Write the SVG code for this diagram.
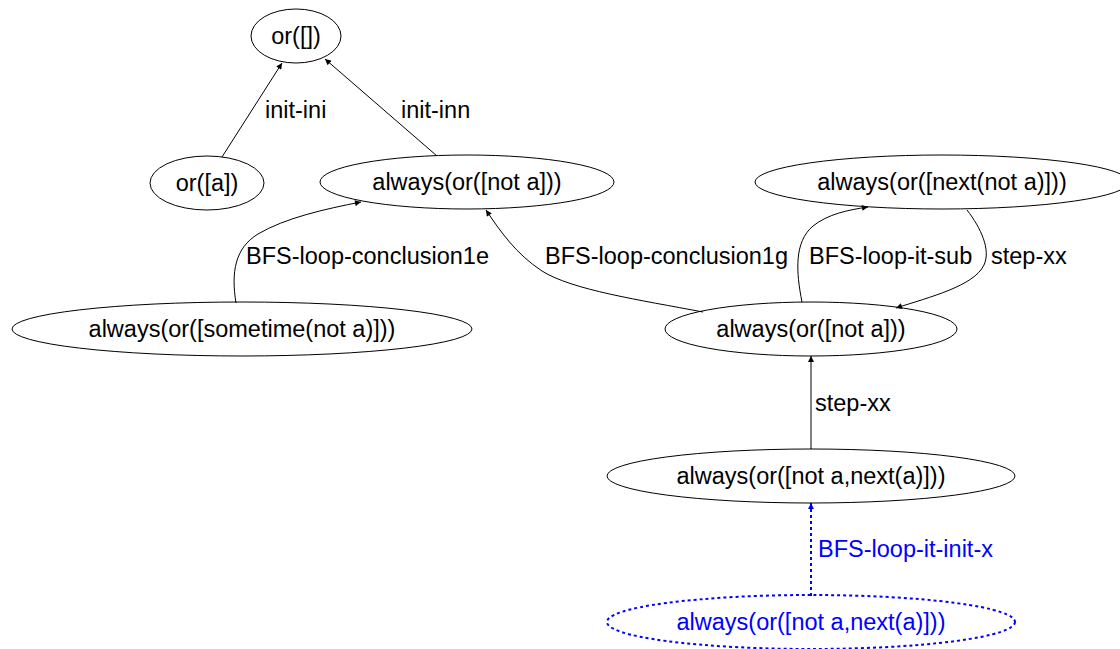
<svg xmlns="http://www.w3.org/2000/svg" width="1120" height="649" viewBox="0 0 1120 649">
<style>
text{font-family:"Liberation Sans",Arial,sans-serif;font-size:23.5px;fill:#000}
.n ellipse{fill:none;stroke:#000;stroke-width:1}
.n text{text-anchor:middle}
.e path{fill:none;stroke:#000;stroke-width:1}
.blue{fill:#0000ff}
</style>
<defs>
<marker id="ah" viewBox="0 0 10 10" refX="10" refY="5" markerWidth="7" markerHeight="6" markerUnits="userSpaceOnUse" orient="auto"><path d="M0,0 L10,5 L0,10 z" fill="#000"/></marker>
<marker id="ahb" viewBox="0 0 10 10" refX="10" refY="5" markerWidth="7" markerHeight="6" markerUnits="userSpaceOnUse" orient="auto"><path d="M0,0 L10,5 L0,10 z" fill="#0000ff"/></marker>
</defs>
<g id="edges" class="e">
<path d="M222,157 L282,63" marker-end="url(#ah)"/>
<path d="M437,156 L325,59" marker-end="url(#ah)"/>
<path d="M236,303 C231,272 235,248 258,234 C285,218 325,209 361,202" marker-end="url(#ah)"/>
<path d="M703,312 C640,300 572,290 542,271 C516,254 500,231 486,210" marker-end="url(#ah)"/>
<path d="M802,302 C796,272 794,242 813,226 C828,214 848,210 868,207" marker-end="url(#ah)"/>
<path d="M967,210 C981,228 991,250 984,265 C974,286 930,297 896,308" marker-end="url(#ah)"/>
<path d="M811,449 L811,356" marker-end="url(#ah)"/>
<path d="M811,596 L811,503" style="stroke:#0000ff;stroke-width:2;stroke-dasharray:3,3" marker-end="url(#ahb)"/>
<text x="265" y="118">init-ini</text>
<text x="401" y="118">init-inn</text>
<text x="246" y="264">BFS-loop-conclusion1e</text>
<text x="545" y="264">BFS-loop-conclusion1g</text>
<text x="809" y="264">BFS-loop-it-sub</text>
<text x="991" y="264">step-xx</text>
<text x="815" y="411">step-xx</text>
<text x="818" y="557" class="blue">BFS-loop-it-init-x</text>
</g>
<g id="n1" class="n"><ellipse cx="296" cy="36" rx="45" ry="27"/><text x="296" y="44">or([])</text></g>
<g id="n2" class="n"><ellipse cx="207" cy="183" rx="57" ry="27"/><text x="207" y="191">or([a])</text></g>
<g id="n3" class="n"><ellipse cx="467" cy="182" rx="147" ry="27"/><text x="467" y="190">always(or([not a]))</text></g>
<g id="n4" class="n"><ellipse cx="942" cy="182" rx="187" ry="27"/><text x="942" y="190">always(or([next(not a)]))</text></g>
<g id="n5" class="n"><ellipse cx="242" cy="329" rx="230" ry="27"/><text x="242" y="337">always(or([sometime(not a)]))</text></g>
<g id="n6" class="n"><ellipse cx="811" cy="329" rx="146" ry="27"/><text x="811" y="337">always(or([not a]))</text></g>
<g id="n7" class="n"><ellipse cx="811" cy="476" rx="204" ry="27"/><text x="811" y="484">always(or([not a,next(a)]))</text></g>
<g id="n8" class="n"><ellipse cx="811" cy="622" rx="204" ry="27" style="stroke:#0000ff;stroke-width:2;stroke-dasharray:3,3"/><text x="811" y="630" class="blue">always(or([not a,next(a)]))</text></g>
</svg>
